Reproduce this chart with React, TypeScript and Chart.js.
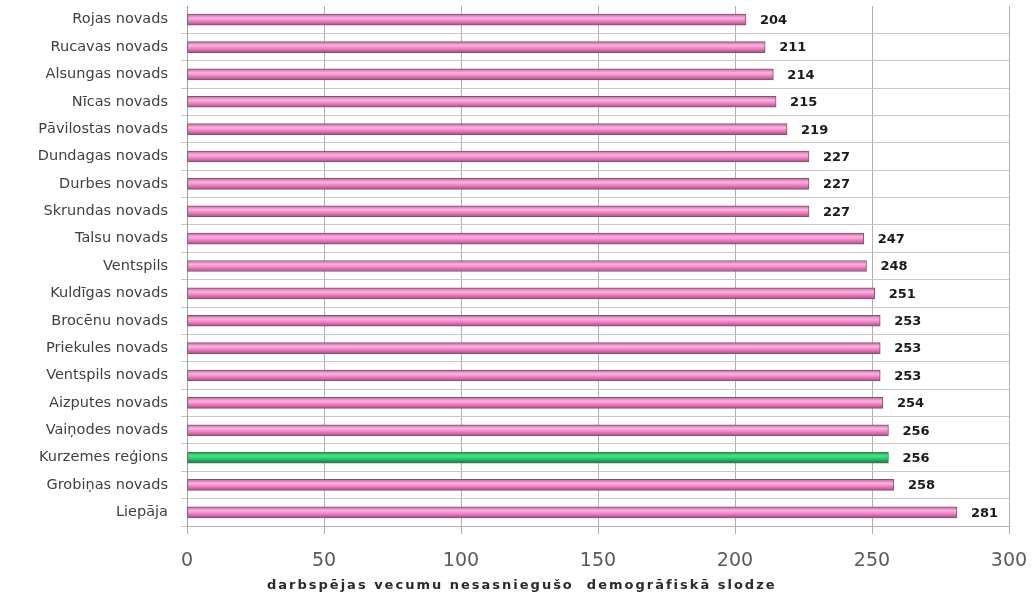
import React, { useEffect, useRef } from "react";
import { Chart, registerables } from "chart.js";

Chart.register(...registerables);

const categories = [
  "Rojas novads",
  "Rucavas novads",
  "Alsungas novads",
  "Nīcas novads",
  "Pāvilostas novads",
  "Dundagas novads",
  "Durbes novads",
  "Skrundas novads",
  "Talsu novads",
  "Ventspils",
  "Kuldīgas novads",
  "Brocēnu novads",
  "Priekules novads",
  "Ventspils novads",
  "Aizputes novads",
  "Vaiņodes novads",
  "Kurzemes reģions",
  "Grobiņas novads",
  "Liepāja",
];
const values = [204, 211, 214, 215, 219, 227, 227, 227, 247, 248, 251, 253, 253, 253, 254, 256, 256, 258, 281];
const highlight = "Kurzemes reģions";
const xTicks = [0, 50, 100, 150, 200, 250, 300];
const axisTitle = "darbspējas vecumu nesasniegušo  demogrāfiskā slodze";

const FONT = "'DejaVu Sans', Verdana, Arial, sans-serif";

const valueLabels = {
  id: "valueLabels",
  beforeDraw(chart: any) {
    (chart.ctx as any).letterSpacing = "0px";
  },
  afterDatasetsDraw(chart: any) {
    const ctx = chart.ctx;
    const meta = chart.getDatasetMeta(0);
    ctx.save();
    ctx.font = "bold 13px " + FONT;
    ctx.fillStyle = "#1a1a1a";
    ctx.textBaseline = "middle";
    ctx.textAlign = "left";
    meta.data.forEach((bar: any, i: number) => {
      ctx.fillText(String(values[i]), bar.x + 14, bar.y + 1);
    });
    ctx.restore();
  },
  afterDraw(chart: any) {
    const ctx = chart.ctx;
    const xs = chart.scales.x;
    ctx.save();
    ctx.font = "bold 13px " + FONT;
    (ctx as any).letterSpacing = "2px";
    ctx.fillStyle = "#2a2a2a";
    ctx.textBaseline = "middle";
    ctx.textAlign = "left";
    ctx.fillText(axisTitle, xs.left + 80, xs.bottom - 15);
    (ctx as any).letterSpacing = "0px";
    ctx.restore();
    (ctx as any).letterSpacing = "0px";
  },
};

export default function App() {
  const ref = useRef<HTMLCanvasElement>(null);
  useEffect(() => {
    if (!ref.current) return;
    const bg = (c: any) => {
      const isHi = categories[c.dataIndex] === highlight;
      const chart = c.chart;
      const y = chart.scales?.y;
      const cy = y && c.dataIndex !== undefined ? y.getPixelForValue(c.dataIndex) : NaN;
      if (!isFinite(cy)) return isHi ? "#22c060" : "#f080c0";
      const g = chart.ctx.createLinearGradient(0, cy - 5.5, 0, cy + 5.5);
      if (isHi) {
        g.addColorStop(0, "#1f9a4c");
        g.addColorStop(0.35, "#40ec8a");
        g.addColorStop(0.65, "#22c262");
        g.addColorStop(1, "#0f7a3a");
      } else {
        g.addColorStop(0, "#d060a0");
        g.addColorStop(0.35, "#fcb4e2");
        g.addColorStop(0.65, "#f07cc0");
        g.addColorStop(1, "#b04888");
      }
      return g;
    };
    const chart = new Chart(ref.current, {
      type: "bar",
      data: {
        labels: categories,
        datasets: [
          {
            data: values,
            backgroundColor: bg,
            borderColor: "#6e5e66",
            borderWidth: 1,
            borderSkipped: false,
            barThickness: 11,
          },
        ],
      },
      options: {
        indexAxis: "y",
        animation: false,
        responsive: false,
        maintainAspectRatio: false,
        layout: { padding: { left: 0, right: 24, top: 6, bottom: 0 } },
        plugins: { legend: { display: false }, tooltip: { enabled: false } },
        scales: {
          x: {
            min: 0,
            max: 300,
            afterBuildTicks: (s: any) => {
              s.ticks = xTicks.map((v) => ({ value: v }));
            },
            afterFit: (s: any) => {
              s.height = 75;
              s.paddingLeft = 0;
              s.paddingRight = 0;
            },
            grid: { color: "#b0b0b0", lineWidth: 1, tickLength: 8, drawTicks: true },
            border: { color: "#b0b0b0" },
            ticks: {
              color: "#5a5a5a",
              padding: 16,
              font: { family: FONT, size: 19 },
            },
          },
          y: {
            afterFit: (s: any) => {
              s.width = 187;
              s.paddingTop = 0;
              s.paddingBottom = 0;
            },
            grid: {
              offset: true,
              color: (c: any) => (c.index === 0 ? "rgba(0,0,0,0)" : "#c8c8c8"),
              tickLength: 6,
            },
            border: { color: "#a0a0a0" },
            ticks: {
              color: "#404040",
              padding: 13,
              font: { family: FONT, size: 14.5 },
            },
          },
        },
      },
      plugins: [valueLabels],
    });
    return () => chart.destroy();
  }, []);
  return (
    <div style={{ position: "fixed", left: 0, top: 0, width: 1033, height: 601, background: "#fff" }}>
      <canvas ref={ref} width={1033} height={601} style={{ width: 1033, height: 601 }} />
    </div>
  );
}
